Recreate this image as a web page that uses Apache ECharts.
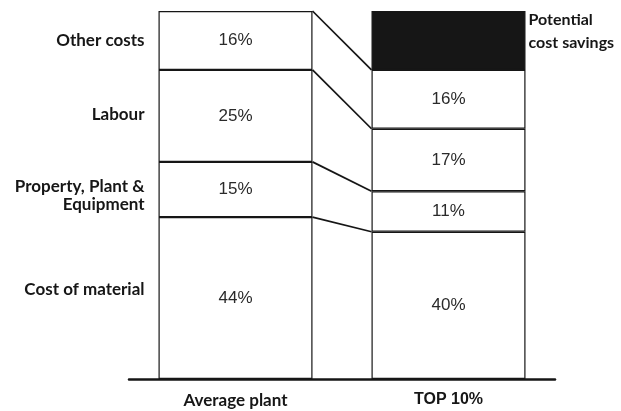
<!DOCTYPE html>
<html>
<head>
<meta charset="utf-8">
<script src="https://cdn.jsdelivr.net/npm/echarts@6/dist/echarts.min.js"></script>
<style>
  html, body { margin: 0; padding: 0; background: #fff; }
  #chart { width: 621px; height: 411px; }
</style>
</head>
<body>
<div id="chart"></div>
<script>
// Cost structure: average plant vs. the top 10% of plants
const categories = ['Average plant', 'TOP 10%'];
const segmentNames = ['Cost of material', 'Property, Plant &\nEquipment', 'Labour', 'Other costs'];
const averagePlant = [44, 15, 25, 16];
const top10 = [40, 11, 17, 16];
const savingsName = 'Potential\ncost savings';
const savingsValue = 16;

const BAR_WIDTH = 154;
const INK = '#161616';
const LABEL_FONT = 'Lato, "Open Sans", sans-serif';
const VALUE_FONT = '"Liberation Sans", Arial, sans-serif';
// small vertical nudges (px) for the segment names
const NAME_NUDGE = [-9, 6, -1, 0];

// cumulative segment tops for each column
function cumulative(arr) {
  let s = 0;
  return arr.map(v => (s += v));
}
const avgTops = cumulative(averagePlant);
const topTops = cumulative(top10);
const avgMids = averagePlant.map((v, i) => avgTops[i] - v / 2);

const segmentStyle = { color: '#fff', borderColor: INK, borderWidth: 1.2 };

const series = segmentNames.map((name, i) => ({
  name: name,
  type: 'bar',
  stack: 'cost',
  barWidth: BAR_WIDTH,
  data: [averagePlant[i], top10[i]],
  itemStyle: segmentStyle,
  label: {
    show: true,
    position: 'inside',
    formatter: p => p.value + '%',
    fontFamily: VALUE_FONT,
    fontSize: 17,
    color: '#2a2a2a'
  },
  silent: true
}));

series.push({
  name: savingsName,
  type: 'bar',
  stack: 'cost',
  barWidth: BAR_WIDTH,
  data: ['-', savingsValue],
  itemStyle: { color: INK, borderColor: INK, borderWidth: 1.2 },
  label: {
    show: true,
    position: [BAR_WIDTH + 3, -3],
    align: 'left',
    verticalAlign: 'top',
    formatter: savingsName,
    fontFamily: LABEL_FONT,
    fontSize: 16,
    fontWeight: 'bold',
    lineHeight: 23,
    color: INK
  },
  silent: true
});

// sloped connectors joining matching segment boundaries of both columns
series.push({
  type: 'custom',
  silent: true,
  data: avgTops.map((v, i) => [0, v, topTops[i]]),
  encode: { x: 0, y: 1 },
  renderItem: function (params, api) {
    const l = api.coord([0, api.value(1)]);
    const r = api.coord([1, api.value(2)]);
    return {
      type: 'line',
      shape: { x1: l[0] + BAR_WIDTH / 2, y1: l[1], x2: r[0] - BAR_WIDTH / 2, y2: r[1] },
      style: { stroke: INK, lineWidth: 1.7 }
    };
  },
  z: 5
});

// segment names to the left of the first column
series.push({
  type: 'custom',
  silent: true,
  data: avgMids.map((v, i) => [0, v, i]),
  encode: { x: 0, y: 1 },
  renderItem: function (params, api) {
    const idx = api.value(2);
    const p = api.coord([0, api.value(1)]);
    return {
      type: 'text',
      x: p[0] - BAR_WIDTH / 2 - 14,
      y: p[1] + NAME_NUDGE[idx],
      style: {
        text: segmentNames[idx],
        align: 'right',
        verticalAlign: 'middle',
        fontFamily: LABEL_FONT,
        fontSize: 17,
        fontWeight: 'bold',
        lineHeight: 18,
        fill: INK
      }
    };
  }
});

const chart = echarts.init(document.getElementById('chart'), null, { renderer: 'canvas' });
chart.setOption({
  backgroundColor: '#fff',
  animation: false,
  grid: { left: 129, right: 66, top: 11, bottom: 32 },
  xAxis: {
    type: 'category',
    data: categories,
    axisLine: { lineStyle: { color: INK, width: 2.5 } },
    axisTick: { show: false },
    axisLabel: {
      margin: 13,
      formatter: (v, i) => (i === 0 ? '{a|' + v + '}' : '{b|' + v + '}'),
      rich: {
        a: { fontFamily: LABEL_FONT, fontSize: 17, fontWeight: 'bold', color: INK },
        b: { fontFamily: VALUE_FONT, fontSize: 16, fontWeight: 'bold', color: INK }
      }
    }
  },
  yAxis: {
    type: 'value',
    min: 0,
    max: 100,
    show: false,
    splitLine: { show: false }
  },
  series: series
});
</script>
</body>
</html>
